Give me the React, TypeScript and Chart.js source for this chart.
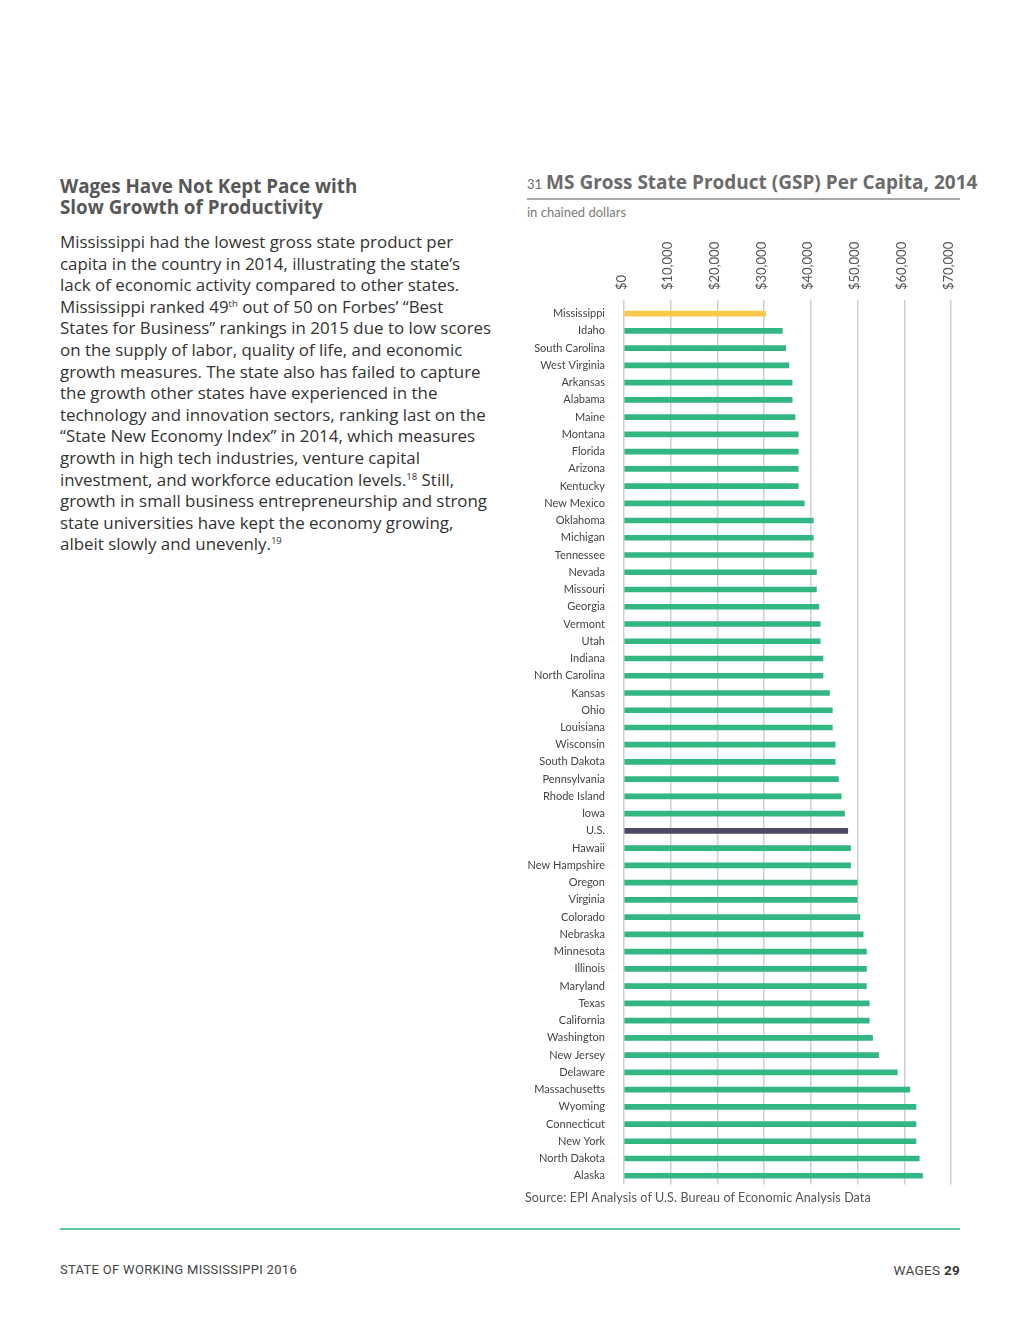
import React, { useEffect, useRef } from "react";
import { Chart, registerables } from "chart.js";

Chart.register(...registerables);

const categories: string[] = [
  "Mississippi", "Idaho", "South Carolina", "West Virginia", "Arkansas", "Alabama", "Maine",
  "Montana", "Florida", "Arizona", "Kentucky", "New Mexico", "Oklahoma", "Michigan", "Tennessee",
  "Nevada", "Missouri", "Georgia", "Vermont", "Utah", "Indiana", "North Carolina", "Kansas",
  "Ohio", "Louisiana", "Wisconsin", "South Dakota", "Pennsylvania", "Rhode Island", "Iowa",
  "U.S.", "Hawaii", "New Hampshire", "Oregon", "Virginia", "Colorado", "Nebraska", "Minnesota",
  "Illinois", "Maryland", "Texas", "California", "Washington", "New Jersey", "Delaware",
  "Massachusetts", "Wyoming", "Connecticut", "New York", "North Dakota", "Alaska",
];

const gspPerCapita: number[] = [
  30300, 33900, 34600, 35300, 36000, 36000, 36600,
  37300, 37300, 37300, 37300, 38600, 40500, 40500, 40500,
  41200, 41200, 41700, 42000, 42000, 42600, 42600, 44000,
  44600, 44600, 45200, 45200, 45900, 46500, 47200,
  47900, 48500, 48500, 49900, 49900, 50500, 51200, 51900,
  51900, 51900, 52500, 52500, 53200, 54500, 58500,
  61200, 62500, 62500, 62500, 63200, 63900,
];

const xTicks: number[] = [0, 10000, 20000, 30000, 40000, 50000, 60000, 70000];

const highlightState = "Mississippi";
const nationalAverage = "U.S.";

const GREEN = "#31b684";
const YELLOW = "#f8c94a";
const NAVY = "#4a4966";

function GspChart() {
  const ref = useRef<HTMLCanvasElement | null>(null);
  useEffect(() => {
    if (!ref.current) return;
    const colors = categories.map((c) =>
      c === highlightState ? YELLOW : c === nationalAverage ? NAVY : GREEN
    );
    const chart = new Chart(ref.current, {
      type: "bar",
      data: {
        labels: categories,
        datasets: [
          {
            data: gspPerCapita,
            backgroundColor: colors,
            borderWidth: 0,
            barThickness: 5,
          },
        ],
      },
      options: {
        indexAxis: "y",
        animation: false,
        responsive: false,
        maintainAspectRatio: false,
        devicePixelRatio: 1,
        layout: { padding: { top: 5, right: 19, bottom: 4, left: 0 } },
        plugins: {
          legend: { display: false },
          tooltip: { enabled: false },
          title: { display: false },
        },
        scales: {
          x: {
            position: "top",
            min: 0,
            max: 70000,
            afterBuildTicks: (axis: any) => {
              axis.ticks = xTicks.map((v) => ({ value: v }));
            },
            afterFit: (axis: any) => {
              axis.height = 80;
            },
            grid: {
              color: "#cfcfcf",
              lineWidth: 1.5,
              drawTicks: true,
              tickLength: 5,
            },
            border: { display: false },
            ticks: {
              minRotation: 90,
              maxRotation: 90,
              padding: 10,
              labelOffset: 13,
              color: "#555555",
              font: { family: "Lato", size: 13 },
              callback: (v: any) => "$" + Number(v).toLocaleString("en-US"),
            },
          },
          y: {
            afterFit: (axis: any) => {
              axis.width = 104;
            },
            grid: { display: false, drawTicks: false },
            border: { display: false },
            ticks: {
              padding: 19,
              color: "#444444",
              autoSkip: false,
              font: { family: "Lato", size: 11 },
            },
          },
        },
      },
    });
    return () => chart.destroy();
  }, []);
  return (
    <canvas
      ref={ref}
      width={450}
      height={990}
      style={{ position: "absolute", left: 520, top: 220, width: 450, height: 990 }}
    />
  );
}

const supStyle: React.CSSProperties = { fontSize: 9.5, verticalAlign: "6px", lineHeight: 0 };

const bodyLines: React.ReactNode[] = [
  "Mississippi had the lowest gross state product per",
  "capita in the country in 2014, illustrating the state\u2019s",
  "lack of economic activity compared to other states.",
  <>{"Mississippi ranked 49"}<sup style={supStyle}>th</sup>{" out of 50 on Forbes\u2019 \u201cBest"}</>,
  "States for Business\u201d rankings in 2015 due to low scores",
  "on the supply of labor, quality of life, and economic",
  "growth measures. The state also has failed to capture",
  "the growth other states have experienced in the",
  "technology and innovation sectors, ranking last on the",
  "\u201cState New Economy Index\u201d in 2014, which measures",
  "growth in high tech industries, venture capital",
  <>{"investment, and workforce education levels."}<sup style={supStyle}>18</sup>{" Still,"}</>,
  "growth in small business entrepreneurship and strong",
  "state universities have kept the economy growing,",
  <>{"albeit slowly and unevenly."}<sup style={supStyle}>19</sup></>,
];

export default function App() {
  return (
    <div
      style={{
        position: "absolute",
        left: 0,
        top: 0,
        width: 1020,
        height: 1320,
        background: "#ffffff",
        overflow: "hidden",
        fontFamily: "Lato, 'Open Sans', sans-serif",
      }}
    >
      {/* Left column */}
      <div
        style={{
          position: "absolute",
          left: 60,
          top: 176,
          fontSize: 18.8,
          fontWeight: 700,
          lineHeight: "21px",
          color: "#575757",
          fontFamily: "'Open Sans', sans-serif",
          whiteSpace: "nowrap",
        }}
      >
        Wages Have Not Kept Pace with
        <br />
        Slow Growth of Productivity
      </div>
      <div
        style={{
          position: "absolute",
          left: 60,
          top: 231,
          fontSize: 16.9,
          lineHeight: "21.6px",
          color: "#333333",
          whiteSpace: "nowrap",
          fontFamily: "'Open Sans', sans-serif",
        }}
      >
        {bodyLines.map((l, i) => (
          <div key={i}>{l}</div>
        ))}
      </div>

      {/* Chart title */}
      <div
        style={{
          position: "absolute",
          left: 527,
          top: 169,
          whiteSpace: "nowrap",
          color: "#6b6b6b",
        }}
      >
        <span style={{ fontSize: 13, fontWeight: 400, marginRight: 4, fontFamily: "Lato" }}>31</span>
        <span style={{ fontSize: 19, fontWeight: 700, fontFamily: "'Open Sans', sans-serif" }}>
          MS Gross State Product (GSP) Per Capita, 2014
        </span>
      </div>
      <div
        style={{
          position: "absolute",
          left: 527,
          top: 198,
          width: 433,
          height: 2,
          background: "#a9a9a9",
        }}
      />
      <div
        style={{
          position: "absolute",
          left: 527,
          top: 204,
          fontSize: 13,
          color: "#7a7a7a",
        }}
      >
        in chained dollars
      </div>

      <GspChart />

      <div
        style={{
          position: "absolute",
          left: 525,
          top: 1190,
          fontSize: 12.5,
          letterSpacing: 0.12,
          color: "#555555",
          whiteSpace: "nowrap",
        }}
      >
        Source: EPI Analysis of U.S. Bureau of Economic Analysis Data
      </div>

      {/* Footer */}
      <div
        style={{
          position: "absolute",
          left: 60,
          top: 1228,
          width: 900,
          height: 2,
          background: "#5ec7a0",
        }}
      />
      <div
        style={{
          position: "absolute",
          left: 60,
          top: 1262,
          fontSize: 13,
          color: "#444444",
          fontFamily: "Roboto, sans-serif",
          letterSpacing: 0.3,
          whiteSpace: "nowrap",
        }}
      >
        STATE OF WORKING MISSISSIPPI 2016
      </div>
      <div
        style={{
          position: "absolute",
          right: 60,
          top: 1262,
          fontSize: 13.5,
          color: "#444444",
          fontFamily: "Roboto, sans-serif",
          letterSpacing: 0.3,
          whiteSpace: "nowrap",
        }}
      >
        WAGES <b style={{ color: "#333" }}>29</b>
      </div>
    </div>
  );
}
